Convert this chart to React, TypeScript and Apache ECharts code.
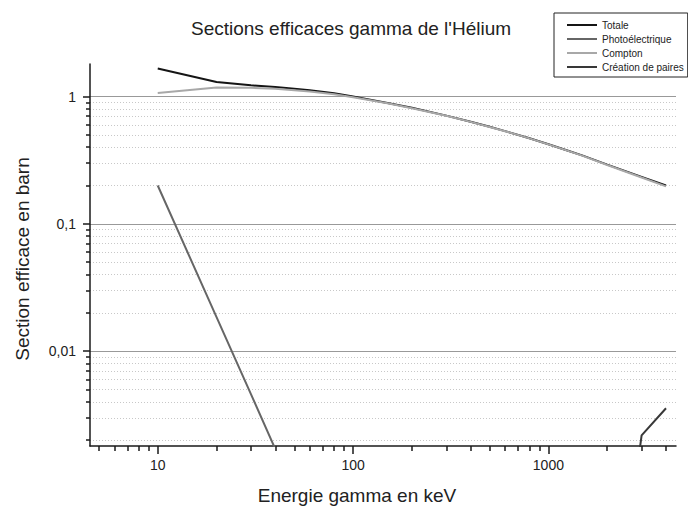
import React, { useEffect, useRef } from "react";
import * as echarts from "echarts";

const energies = [10, 20, 30, 40, 50, 60, 80, 100, 150, 200, 300, 400, 500, 600, 800, 1000, 1250, 1500, 2000, 3000, 4000];
const totale = [1.66, 1.3, 1.225, 1.185, 1.15, 1.12, 1.06, 1.0, 0.89, 0.815, 0.708, 0.634, 0.578, 0.535, 0.47, 0.422, 0.377, 0.343, 0.292, 0.234, 0.2];
const compton = [1.065, 1.175, 1.17, 1.15, 1.12, 1.095, 1.04, 0.985, 0.885, 0.81, 0.705, 0.632, 0.577, 0.534, 0.469, 0.421, 0.376, 0.342, 0.29, 0.231, 0.197];
const photoEnergies = [10, 20, 30, 40];
const photo = [0.2, 0.0185, 0.0046, 0.0017];
const pairEnergies = [2000, 3000, 4000];
const pair = [0.00002, 0.00218, 0.00356];

const xMajor = [10, 100, 1000];
const xMinor = [5, 6, 7, 8, 9, 20, 30, 40, 50, 60, 70, 80, 90, 200, 300, 400, 500, 600, 700, 800, 900, 2000, 3000, 4000];
const yMajor = [0.01, 0.1, 1];
const yMinor = [0.002, 0.003, 0.004, 0.005, 0.006, 0.007, 0.008, 0.009, 0.02, 0.03, 0.04, 0.05, 0.06, 0.07, 0.08, 0.09, 0.2, 0.3, 0.4, 0.5, 0.6, 0.7, 0.8, 0.9];

const FONT = "'Liberation Sans', Arial, sans-serif";

function pairs(xs: number[], ys: number[]) {
  return xs.map((x, i) => [x, ys[i]]);
}

export default function App() {
  const ref = useRef<HTMLDivElement>(null);
  useEffect(() => {
    if (!ref.current) return;
    const chart = echarts.init(ref.current, undefined, { renderer: "svg" });
    const axisColor = "#1a1a1a";
    chart.setOption({
      animation: false,
      backgroundColor: "#ffffff",
      textStyle: { fontFamily: FONT },
      grid: { left: 90, right: 12, top: 64, bottom: 63, containLabel: false },
      graphic: [
        {
          type: "text",
          x: 351,
          y: 28,
          style: { text: "Sections efficaces gamma de l'Hélium", font: `19px ${FONT}`, fill: "#222", textAlign: "center", textVerticalAlign: "middle" },
        },
        {
          type: "text",
          x: 357,
          y: 495,
          style: { text: "Energie gamma en keV", font: `19px ${FONT}`, fill: "#222", textAlign: "center", textVerticalAlign: "middle" },
        },
        {
          type: "text",
          x: 22,
          y: 259,
          rotation: Math.PI / 2,
          style: { text: "Section efficace en barn", font: `19px ${FONT}`, fill: "#222", textAlign: "center", textVerticalAlign: "middle" },
        },
      ],
      legend: {
        orient: "vertical",
        left: 554,
        top: 13,
        padding: [7, 4, 5, 13],
        itemGap: 4,
        itemWidth: 30,
        itemHeight: 2,
        icon: "rect",
        borderColor: "#222",
        borderWidth: 1,
        textStyle: { fontFamily: FONT, fontSize: 10, color: "#222", lineHeight: 10 },
        data: ["Totale", "Photoélectrique", "Compton", "Création de paires"],
      },
      xAxis: [
        {
          type: "log",
          logBase: 10,
          min: 4.5,
          max: 4500,
          axisLine: { show: true, lineStyle: { color: axisColor, width: 1.5 } },
          axisTick: { show: true, customValues: xMajor, length: 8, lineStyle: { color: axisColor, width: 1.5 } },
          axisLabel: {
            customValues: xMajor,
            fontSize: 14,
            color: "#222",
            margin: 12,
            fontFamily: FONT,
            formatter: (v: number) => String(Math.round(v)),
          },
          splitLine: { show: false },
        },
        {
          type: "log",
          logBase: 10,
          min: 4.5,
          max: 4500,
          position: "bottom",
          axisLine: { show: false },
          axisTick: { show: true, customValues: xMinor, length: 5, lineStyle: { color: axisColor, width: 1.5 } },
          axisLabel: { show: false },
          splitLine: { show: false },
        },
      ],
      yAxis: [
        {
          type: "log",
          logBase: 10,
          min: 0.0018,
          max: 1.8,
          axisLine: { show: true, lineStyle: { color: axisColor, width: 1.5 } },
          axisTick: { show: true, customValues: yMajor, length: 7, lineStyle: { color: axisColor, width: 1.5 } },
          axisLabel: {
            customValues: yMajor,
            fontSize: 14,
            color: "#222",
            margin: 14,
            fontFamily: FONT,
            formatter: (v: number) => String(Number(v.toPrecision(6))).replace(".", ","),
          },
          splitLine: { show: true, lineStyle: { color: "#999", width: 1, type: "solid" } },
        },
        {
          type: "log",
          logBase: 10,
          min: 0.0018,
          max: 1.8,
          position: "left",
          axisLine: { show: false },
          axisTick: { show: true, customValues: yMinor, length: 4, lineStyle: { color: axisColor, width: 1.5 } },
          axisLabel: { show: false },
          splitLine: { show: true, lineStyle: { color: "#c8c8c8", width: 1, type: [1, 2] } },
        },
      ],
      series: [
        {
          name: "Totale",
          type: "line",
          symbol: "none",
          data: pairs(energies, totale),
          lineStyle: { color: "#151515", width: 2 },
          itemStyle: { color: "#151515" },
        },
        {
          name: "Photoélectrique",
          type: "line",
          symbol: "none",
          data: pairs(photoEnergies, photo),
          lineStyle: { color: "#666666", width: 2 },
          itemStyle: { color: "#666666" },
        },
        {
          name: "Compton",
          type: "line",
          symbol: "none",
          data: pairs(energies, compton),
          lineStyle: { color: "#a8a8a8", width: 2 },
          itemStyle: { color: "#a8a8a8" },
        },
        {
          name: "Création de paires",
          type: "line",
          symbol: "none",
          data: pairs(pairEnergies, pair),
          lineStyle: { color: "#383838", width: 2 },
          itemStyle: { color: "#383838" },
        },
      ],
    });
    return () => chart.dispose();
  }, []);
  return <div ref={ref} style={{ width: 688, height: 509, position: "absolute", left: 0, top: 0 }} />;
}
